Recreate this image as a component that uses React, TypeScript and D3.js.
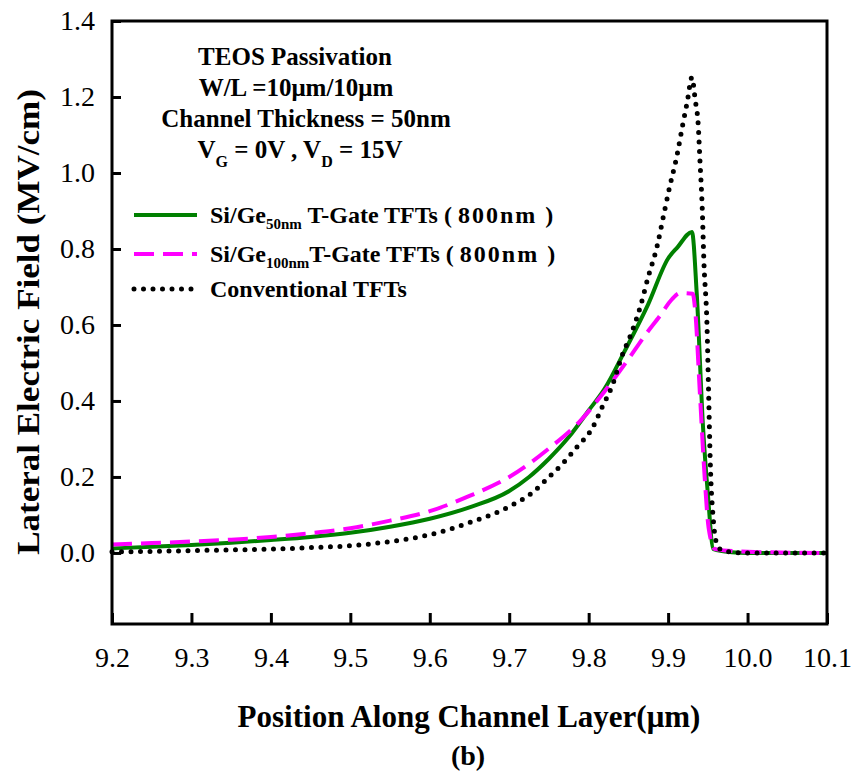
import React, { useEffect, useRef } from "react";
import * as d3 from "d3";

// position along channel (um) / lateral field (MV/cm)
const siGe50X = [9.2, 9.25, 9.3, 9.35, 9.4, 9.45, 9.5, 9.55, 9.6, 9.65, 9.7, 9.725, 9.75, 9.775, 9.8, 9.82, 9.845, 9.875, 9.9, 9.912, 9.93, 9.936, 9.944, 9.95, 9.957, 9.98, 10.0, 10.1];
const siGe50Y = [0.012, 0.016, 0.021, 0.027, 0.034, 0.042, 0.053, 0.069, 0.09, 0.12, 0.163, 0.2, 0.248, 0.305, 0.375, 0.432, 0.53, 0.655, 0.775, 0.805, 0.845, 0.684, 0.33, 0.156, 0.01, 0.002, 0.0, 0.0];

const siGe100X = [9.2, 9.25, 9.3, 9.35, 9.4, 9.45, 9.5, 9.55, 9.6, 9.65, 9.7, 9.75, 9.79, 9.82, 9.85, 9.87, 9.89, 9.905, 9.915, 9.931, 9.934, 9.94, 9.946, 9.951, 9.959, 10.0, 10.1];
const siGe100Y = [0.022, 0.026, 0.03, 0.035, 0.042, 0.052, 0.065, 0.085, 0.11, 0.15, 0.2, 0.275, 0.349, 0.425, 0.51, 0.57, 0.625, 0.668, 0.684, 0.682, 0.64, 0.42, 0.2, 0.066, 0.01, 0.003, 0.0];

const convX = [9.2, 9.25, 9.3, 9.35, 9.4, 9.45, 9.5, 9.55, 9.6, 9.65, 9.7, 9.73, 9.75, 9.765, 9.785, 9.805, 9.817, 9.829, 9.843, 9.852, 9.865, 9.875, 9.886, 9.894, 9.902, 9.911, 9.918, 9.924, 9.93, 9.934, 9.938, 9.94, 9.943, 9.945, 9.949, 9.951, 9.953, 9.957, 9.961, 9.969, 10.0, 10.1];
const convY = [0.003, 0.004, 0.006, 0.008, 0.01, 0.014, 0.019, 0.03, 0.048, 0.08, 0.122, 0.16, 0.2, 0.23, 0.278, 0.33, 0.384, 0.437, 0.525, 0.569, 0.648, 0.727, 0.806, 0.885, 0.964, 1.044, 1.123, 1.186, 1.252, 1.194, 1.123, 1.036, 0.904, 0.77, 0.595, 0.42, 0.243, 0.085, 0.026, 0.005, 0.0, 0.0];

const xTicks = [9.2, 9.3, 9.4, 9.5, 9.6, 9.7, 9.8, 9.9, 10.0, 10.1];
const yTicks = [0, 0.2, 0.4, 0.6, 0.8, 1.0, 1.2, 1.4];

const infoLines = ["TEOS Passivation", "W/L =10\u03bcm/10\u03bcm", "Channel Thickness = 50nm"];
const infoCenters = [295, 296, 306];

const FONT = "Liberation Serif";

function LateralFieldChart() {
  const ref = useRef<SVGSVGElement>(null);

  useEffect(() => {
    const svg = d3.select(ref.current);
    svg.selectAll("*").remove();

    const margin = { top: 21, right: 27, bottom: 157, left: 112 };
    const width = 854, height = 781;
    const bw = width - margin.left - margin.right;
    const bh = height - margin.top - margin.bottom;

    const x = d3.scaleLinear().domain([9.2, 10.1]).range([0, bw]);
    const y = d3.scaleLinear().domain([-0.187, 1.4]).range([bh, 0]);

    const g = svg.append("g").attr("transform", `translate(${margin.left},${margin.top})`);

    // series
    const series = [
      { xs: siGe50X, ys: siGe50Y, color: "#008000", dash: null, width: 4, cap: "butt" },
      { xs: siGe100X, ys: siGe100Y, color: "#ff00ff", dash: "20 9", width: 4, cap: "butt" },
      { xs: convX, ys: convY, color: "#000000", dash: "0 9.5", width: 5, cap: "round" },
    ];
    const line = d3.line<[number, number]>()
      .x((d) => x(d[0]))
      .y((d) => y(d[1]))
      .curve(d3.curveMonotoneX);

    series.forEach((s) => {
      const pts = s.xs.map((v, i) => [v, s.ys[i]] as [number, number]);
      g.append("path")
        .attr("d", line(pts))
        .attr("fill", "none")
        .attr("stroke", s.color)
        .attr("stroke-width", s.width)
        .attr("stroke-linecap", s.cap)
        .attr("stroke-linejoin", "round")
        .attr("stroke-dasharray", s.dash);
    });

    // y axis
    const yAxis = g.append("g")
      .call(d3.axisLeft(y).tickValues(yTicks).tickSizeInner(-9).tickSizeOuter(0).tickPadding(17).tickFormat(d3.format(".1f")));
    yAxis.select(".domain").remove();
    yAxis.selectAll("line").attr("stroke", "#000").attr("stroke-width", 3);
    yAxis.selectAll("text").attr("fill", "#000").style("font-family", FONT).style("font-size", "28px");

    // x axis
    const xAxis = g.append("g")
      .attr("transform", `translate(0,${bh})`)
      .call(d3.axisBottom(x).tickValues(xTicks).tickSizeInner(-11).tickSizeOuter(0).tickPadding(23).tickFormat(d3.format(".1f")));
    xAxis.select(".domain").remove();
    xAxis.selectAll("line").attr("stroke", "#000").attr("stroke-width", 3);
    xAxis.selectAll("text").attr("fill", "#000").style("font-family", FONT).style("font-size", "28px");

    // frame
    g.append("rect")
      .attr("width", bw)
      .attr("height", bh)
      .attr("fill", "none")
      .attr("stroke", "#000")
      .attr("stroke-width", 3);

    // axis titles
    svg.append("text")
      .attr("transform", "translate(39,322) rotate(-90) scale(1.13,1)")
      .attr("text-anchor", "middle")
      .style("font-family", FONT)
      .style("font-weight", "bold")
      .style("font-size", "31px")
      .text("Lateral Electric Field (MV/cm)");

    svg.append("text")
      .attr("x", 469)
      .attr("y", 727)
      .attr("text-anchor", "middle")
      .style("font-family", FONT)
      .style("font-weight", "bold")
      .style("font-size", "31px")
      .text("Position Along Channel Layer(\u03bcm)");

    svg.append("text")
      .attr("x", 468)
      .attr("y", 765)
      .attr("text-anchor", "middle")
      .style("font-family", FONT)
      .style("font-weight", "bold")
      .style("font-size", "28px")
      .text("(b)");

    // condition notes
    const info = svg.append("g")
      .style("font-family", FONT)
      .style("font-weight", "bold")
      .style("font-size", "25px")
      .attr("text-anchor", "middle");
    infoLines.forEach((t, i) => {
      info.append("text").attr("x", infoCenters[i]).attr("y", 65 + i * 31).text(t);
    });
    const vText = info.append("text").attr("x", 300).attr("y", 158);
    vText.append("tspan").text("V");
    vText.append("tspan").style("font-size", "16px").attr("dy", 9).text("G");
    vText.append("tspan").attr("dy", -9).text(" = 0V , V");
    vText.append("tspan").style("font-size", "16px").attr("dy", 9).text("D");
    vText.append("tspan").attr("dy", -9).text(" = 15V");

    // legend
    const legendItems = [
      { main: "Si/Ge", sub: "50nm", rest: " T-Gate TFTs ( ", s: series[0] },
      { main: "Si/Ge", sub: "100nm", rest: "T-Gate TFTs ( ", s: series[1] },
      { main: "Conventional TFTs", sub: "", rest: "", s: series[2] },
    ];
    const legendY = [215, 254, 289];
    const legend = svg.append("g")
      .style("font-family", FONT)
      .style("font-weight", "bold")
      .style("font-size", "24px");
    legendItems.forEach((it, i) => {
      const ly = legendY[i];
      legend.append("line")
        .attr("x1", 134)
        .attr("x2", 197)
        .attr("y1", ly)
        .attr("y2", ly)
        .attr("stroke", it.s.color)
        .attr("stroke-width", it.s.width)
        .attr("stroke-linecap", it.s.cap)
        .attr("stroke-dasharray", it.s.dash);
      const t = legend.append("text").attr("x", 210).attr("y", ly + 8).style("white-space", "pre");
      t.append("tspan").text(it.main);
      if (it.sub) {
        t.append("tspan").style("font-size", "15px").attr("dy", 6).text(it.sub);
        t.append("tspan").attr("dy", -6).text(it.rest);
        t.append("tspan").style("letter-spacing", "2px").text("800nm )");
      }
    });
  }, []);

  return <svg ref={ref} width={854} height={781} style={{ position: "absolute", left: 0, top: 0, background: "#fff" }} />;
}

export default function App() {
  return <LateralFieldChart />;
}
